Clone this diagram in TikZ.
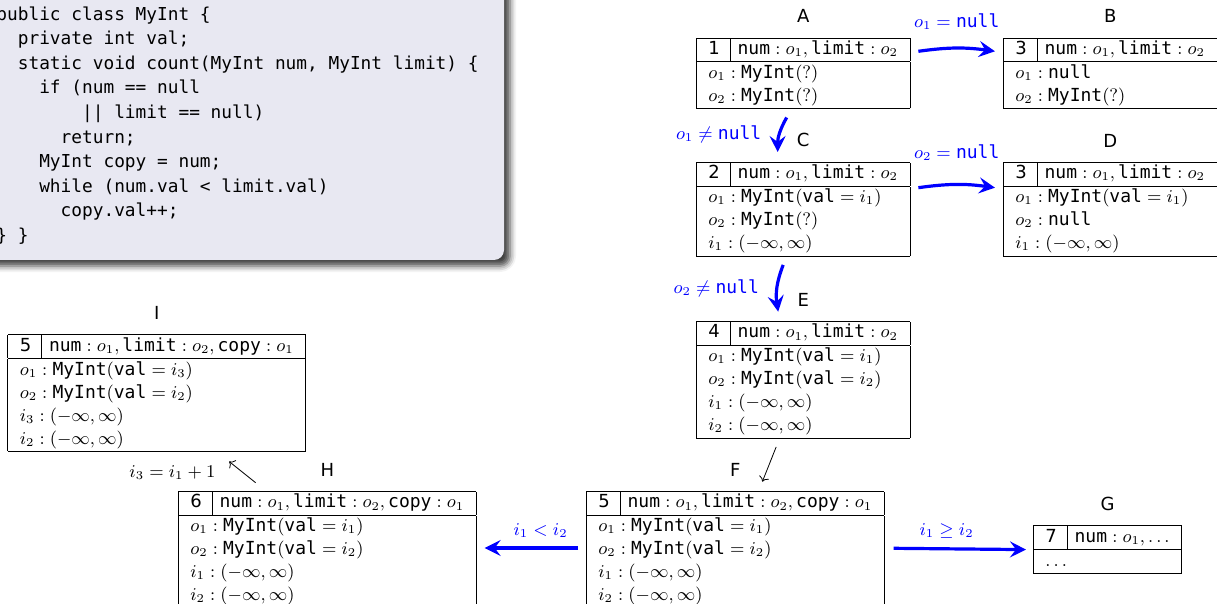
\documentclass[tikz,border=0pt]{standalone}
\usepackage{fontspec}
\setsansfont{DejaVu Sans}
\setmonofont{DejaVu Sans Mono}
\usetikzlibrary{positioning,arrows.meta,shadows.blur}

\definecolor{codebg}{RGB}{232,232,242}
\newcommand{\tv}[1]{\texttt{#1}}
\newcommand{\ind}[1]{\hspace*{#1\fontcharwd\font`\x}}
\newcommand{\hd}[2]{\multicolumn{1}{|c|}{#1\hspace{5pt}\vline\hspace{3.5pt}#2}}

\begin{document}
\begin{tikzpicture}[x=0.5pt, y=-0.5pt,
    state/.style={inner sep=0pt, anchor=north west, font=\sffamily\fontsize{9}{11.5}\selectfont},
    tag/.style={font=\sffamily\fontsize{9}{11}\selectfont},
    cond/.style={font=\fontsize{9}{11}\selectfont},
    branch/.style={-{Stealth[length=8pt, width=8pt, inset=3pt]}, line width=1.6pt, blue},
    move/.style={->}]

    \useasboundingbox (0,0) rectangle (1217,604);
    \clip (0,0) rectangle (1217,604);

    % Code
    \path[fill=codebg, rounded corners=5pt,
        blur shadow={shadow xshift=3pt, shadow yshift=-3pt, shadow blur radius=3pt, shadow opacity=75}]
        (-30,-30) rectangle (504,260);
    \node[anchor=north west, inner sep=0pt, align=left, font=\ttfamily\fontsize{8.9}{12.3}\selectfont] (code) at (-4,6) {%
        public class MyInt \{\\
        \ind{2}private int val;\\
        \ind{2}static void count(MyInt num, MyInt limit) \{\\
        \ind{4}if (num == null\\
        \ind{8}|| limit == null)\\
        \ind{6}return;\\
        \ind{4}MyInt copy = num;\\
        \ind{4}while (num.val < limit.val)\\
        \ind{6}copy.val++;\\
        \} \}};

    % Nodes
    \node[state] (A) at (696,37.3) {\begin{tabular}{|l|}\hline
        \hd{1}{$\tv{num}: o_1, \tv{limit}: o_2$}\\\hline
        $o_1: \tv{MyInt}(?)$\\
        $o_2: \tv{MyInt}(?)$\\\hline\end{tabular}};
    \node[state] (B) at (1003,37.3) {\begin{tabular}{|l|}\hline
        \hd{3}{$\tv{num}: o_1, \tv{limit}: o_2$}\\\hline
        $o_1: \tv{null}$\\
        $o_2: \tv{MyInt}(?)$\\\hline\end{tabular}};
    \node[state] (C) at (696,161.7) {\begin{tabular}{|l|}\hline
        \hd{2}{$\tv{num}: o_1, \tv{limit}: o_2$}\\\hline
        $o_1: \tv{MyInt}(\tv{val} = i_1)$\\
        $o_2: \tv{MyInt}(?)$\\
        $i_1: (-\infty, \infty)$\\\hline\end{tabular}};
    \node[state] (D) at (1003,161.7) {\begin{tabular}{|l|}\hline
        \hd{3}{$\tv{num}: o_1, \tv{limit}: o_2$}\\\hline
        $o_1: \tv{MyInt}(\tv{val} = i_1)$\\
        $o_2: \tv{null}$\\
        $i_1: (-\infty, \infty)$\\\hline\end{tabular}};
    \node[state] (E) at (696,320.7) {\begin{tabular}{|l|}\hline
        \hd{4}{$\tv{num}: o_1, \tv{limit}: o_2$}\\\hline
        $o_1: \tv{MyInt}(\tv{val} = i_1)$\\
        $o_2: \tv{MyInt}(\tv{val} = i_2)$\\
        $i_1: (-\infty, \infty)$\\
        $i_2: (-\infty, \infty)$\\\hline\end{tabular}};
    \node[state] (F) at (586,490.7) {\begin{tabular}{|l|}\hline
        \hd{5}{$\tv{num}: o_1, \tv{limit}: o_2, \tv{copy}: o_1$}\\\hline
        $o_1: \tv{MyInt}(\tv{val} = i_1)$\\
        $o_2: \tv{MyInt}(\tv{val} = i_2)$\\
        $i_1: (-\infty, \infty)$\\
        $i_2: (-\infty, \infty)$\\\hline\end{tabular}};
    \node[state] (G) at (1033,525) {\begin{tabular}{|l|}\hline
        \hd{7}{$\tv{num}: o_1, \ldots$}\\\hline
        $\ldots$\\\hline\end{tabular}};
    \node[state] (H) at (178,490.7) {\begin{tabular}{|l|}\hline
        \hd{6}{$\tv{num}: o_1, \tv{limit}: o_2, \tv{copy}: o_1$}\\\hline
        $o_1: \tv{MyInt}(\tv{val} = i_1)$\\
        $o_2: \tv{MyInt}(\tv{val} = i_2)$\\
        $i_1: (-\infty, \infty)$\\
        $i_2: (-\infty, \infty)$\\\hline\end{tabular}};
    \node[state] (I) at (7.4,334) {\begin{tabular}{|l|}\hline
        \hd{5}{$\tv{num}: o_1, \tv{limit}: o_2, \tv{copy}: o_1$}\\\hline
        $o_1: \tv{MyInt}(\tv{val} = i_3)$\\
        $o_2: \tv{MyInt}(\tv{val} = i_2)$\\
        $i_3: (-\infty, \infty)$\\
        $i_2: (-\infty, \infty)$\\\hline\end{tabular}};

    % Names
    \node[tag, above=3.7pt of A] (nA) {A};
    \node[tag, above=3.7pt of B] (nB) {B};
    \node[tag, above=3.7pt of C] (nC) {C};
    \node[tag, above=3.7pt of D] (nD) {D};
    \node[tag, above=3.7pt of E] (nE) {E};
    \node[tag, above=3.7pt of F] (nF) {F};
    \node[tag, above=3.7pt of G] (nG) {G};
    \node[tag, above=3.7pt of H] (nH) {H};
    \node[tag, above=3.7pt of I] (nI) {I};

    % Arrows
    \draw[branch] ([shift={(8,14)}]A.north east) to[bend left=8]
        node[cond, above=5pt] (cAB) {$o_1 = \tv{null}$} ([shift={(-8,14)}]B.north west);
    \draw[branch] ([shift={(-16.5,8)}]A.south) to[bend right=15]
        node[cond, left=5pt] (cAC) {$o_1 \neq \tv{null}$} ([shift={(-25.5,-9.7)}]C.north);
    \draw[branch] ([shift={(8,26)}]C.north east) to[bend left=8]
        node[cond, above=8pt] (cCD) {$o_2 = \tv{null}$} ([shift={(-8,26)}]D.north west);
    \draw[branch] ([shift={(-20,8)}]C.south) to[bend right=15]
        node[cond, left=5pt] (cCE) {$o_2 \neq \tv{null}$} ([shift={(-25,-9)}]E.north);
    \draw[move] ([shift={(-27,8)}]E.south) -- ([shift={(27,-9)}]F.north);
    \draw[branch] ([shift={(9,57.6)}]F.north east) --
        node[cond, above=1pt, pos=0.4] (cFG) {$i_1 \geq i_2$} ([shift={(-7,0)}]G.west);
    \draw[branch] ([shift={(-8,57.3)}]F.north west) --
        node[cond, above=1pt, pos=0.4] (cFH) {$i_1 < i_2$} ([shift={(8,57.3)}]H.north east);
    \draw[move] ([shift={(-71.7,-8)}]H.north) --
        node[cond, left=10pt] (cHI) {$i_3 = i_1 + 1$} ([shift={(72.4,9.3)}]I.south);

\end{tikzpicture}
\end{document}
